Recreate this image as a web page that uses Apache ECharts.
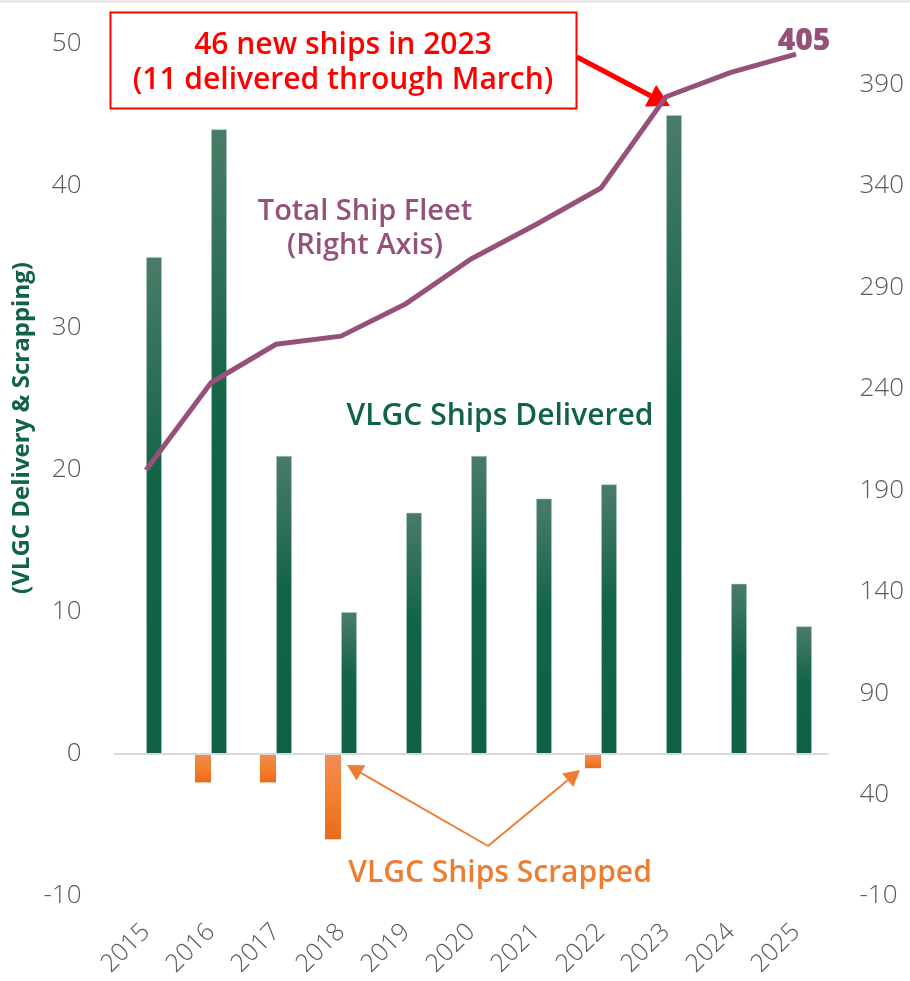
<!DOCTYPE html>
<html>
<head>
<meta charset="utf-8">
<script src="https://cdn.jsdelivr.net/npm/echarts@6/dist/echarts.min.js"></script>
<style>
  html, body { margin: 0; padding: 0; background: #fff; }
  #chart { width: 910px; height: 981px; }
</style>
</head>
<body>
<div id="chart"></div>
<script>
// data
var years = ['2015', '2016', '2017', '2018', '2019', '2020', '2021', '2022', '2023', '2024', '2025'];
var delivered = [35, 44, 21, 10, 17, 21, 18, 19, 45, 12, 9];
var scrapped = [null, -2, -2, -6, null, null, null, -1, null, null, null];
var fleet = [200, 243, 262, 266, 282, 304, 321, 339, 384, 396, 405];

var FONT = '"Open Sans", "Noto Sans", sans-serif';
var GREEN = '#11624a';
var ORANGE = '#ef7d31';
var PURPLE = '#96517a';

// arrow = line + triangle head
function arrow(x1, y1, x2, y2, color, w, head) {
  var a = Math.atan2(y2 - y1, x2 - x1);
  var bx = x2 - head * Math.cos(a), by = y2 - head * Math.sin(a);
  var hw = head * 0.55;
  return [
    { type: 'line', silent: true, shape: { x1: x1, y1: y1, x2: bx, y2: by },
      style: { stroke: color, lineWidth: w } },
    { type: 'polygon', silent: true,
      shape: { points: [[x2, y2],
        [bx + hw * Math.sin(a), by - hw * Math.cos(a)],
        [bx - hw * Math.sin(a), by + hw * Math.cos(a)]] },
      style: { fill: color } }
  ];
}

var myChart = echarts.init(document.getElementById('chart'));

var graphics = [
  { type: 'line', silent: true, shape: { x1: 0, y1: 1.5, x2: 910, y2: 1.5 }, style: { stroke: '#e3e3e3', lineWidth: 2 } },
  { type: 'rect', silent: true, shape: { x: 110.5, y: 12.5, width: 466, height: 96 },
    style: { fill: '#fff', stroke: '#ff0000', lineWidth: 2 } },
  { type: 'text', silent: true, style: { x: 343, y: 45, text: '46 new ships in 2023', align: 'center', verticalAlign: 'middle',
    font: '600 30px ' + FONT, fill: '#ff0000' } },
  { type: 'text', silent: true, style: { x: 343, y: 80, text: '(11 delivered through March)', align: 'center', verticalAlign: 'middle',
    font: '600 30px ' + FONT, fill: '#ff0000' } },
  { type: 'text', silent: true, style: { x: 365, y: 212, text: 'Total Ship Fleet', align: 'center', verticalAlign: 'middle',
    font: '600 29px ' + FONT, fill: PURPLE } },
  { type: 'text', silent: true, style: { x: 365, y: 246, text: '(Right Axis)', align: 'center', verticalAlign: 'middle',
    font: '600 29px ' + FONT, fill: PURPLE } },
  { type: 'text', silent: true, style: { x: 500, y: 416, text: 'VLGC Ships Delivered', align: 'center', verticalAlign: 'middle',
    font: '600 30px ' + FONT, fill: GREEN } },
  { type: 'text', silent: true, style: { x: 500, y: 873, text: 'VLGC Ships Scrapped', align: 'center', verticalAlign: 'middle',
    font: '600 30px ' + FONT, fill: ORANGE } },
  // left axis title
  { type: 'text', silent: true, x: 22, y: 428, rotation: Math.PI / 2,
    style: { x: 0, y: 0, text: '(VLGC Delivery & Scrapping)', align: 'center', verticalAlign: 'middle',
      font: 'bold 24px ' + FONT, fill: GREEN } }
];
graphics = graphics
  .concat(arrow(577, 57, 670, 106, '#ff0000', 5, 22))
  .concat(arrow(488, 846, 347, 765, ORANGE, 2, 16))
  .concat(arrow(488, 846, 580, 770, ORANGE, 2, 16));

var option = {
  animation: false,
  backgroundColor: '#fff',
  textStyle: { fontFamily: FONT },
  grid: { left: 113.5, right: 81.5, top: 44, bottom: 85, containLabel: false },
  xAxis: {
    type: 'category',
    data: years,
    axisLine: { show: false },
    axisTick: { show: false },
    axisLabel: { rotate: 45, color: '#595959', fontSize: 25, fontWeight: 300, fontFamily: FONT, margin: 32 }
  },
  yAxis: [
    {
      type: 'value', min: -10, max: 50, interval: 10,
      splitLine: { show: false }, axisLine: { show: false }, axisTick: { show: false },
      axisLabel: { color: '#595959', fontSize: 26, fontWeight: 300, fontFamily: FONT, margin: 32 }
    },
    {
      type: 'value', min: -10, max: 410, interval: 50,
      splitLine: { show: false }, axisLine: { show: false }, axisTick: { show: false },
      axisLabel: { color: '#595959', fontSize: 26, fontWeight: 300, fontFamily: FONT, margin: 31, showMaxLabel: false }
    }
  ],
  series: [
    {
      name: 'Scrapped', type: 'bar', data: scrapped, barWidth: 16, barGap: '0%',
      itemStyle: {
        color: new echarts.graphic.LinearGradient(0, 0, 0, 1, [
          { offset: 0, color: '#f08c55' }, { offset: 0.5, color: '#f37f2d' }, { offset: 1, color: '#e86c1c' }
        ])
      }
    },
    {
      name: 'Delivered', type: 'bar', data: delivered, barWidth: 16, barGap: '0%',
      itemStyle: {
        color: new echarts.graphic.LinearGradient(0, 0, 0, 1, [
          { offset: 0, color: '#4a7c68' }, { offset: 0.45, color: '#126447' }, { offset: 1, color: '#0f6045' }
        ]),
        borderColor: 'rgba(170,200,190,0.6)', borderWidth: 1
      },
      markLine: {
        silent: true, symbol: 'none', label: { show: false },
        lineStyle: { color: '#d9d9d9', width: 2, type: 'solid' },
        data: [{ yAxis: 0 }]
      }
    },
    {
      name: 'Fleet', type: 'line', yAxisIndex: 1, data: fleet,
      symbol: 'circle', symbolSize: 0, showSymbol: true,
      lineStyle: { color: PURPLE, width: 5 },
      itemStyle: { color: PURPLE },
      label: {
        show: true, position: 'top', distance: 0, offset: [8, 2],
        color: PURPLE, fontSize: 30, fontWeight: 800, fontFamily: FONT,
        formatter: function (p) { return p.dataIndex === fleet.length - 1 ? String(p.value) : ''; }
      }
    }
  ],
  graphic: graphics
};
myChart.setOption(option);
</script>
</body>
</html>
